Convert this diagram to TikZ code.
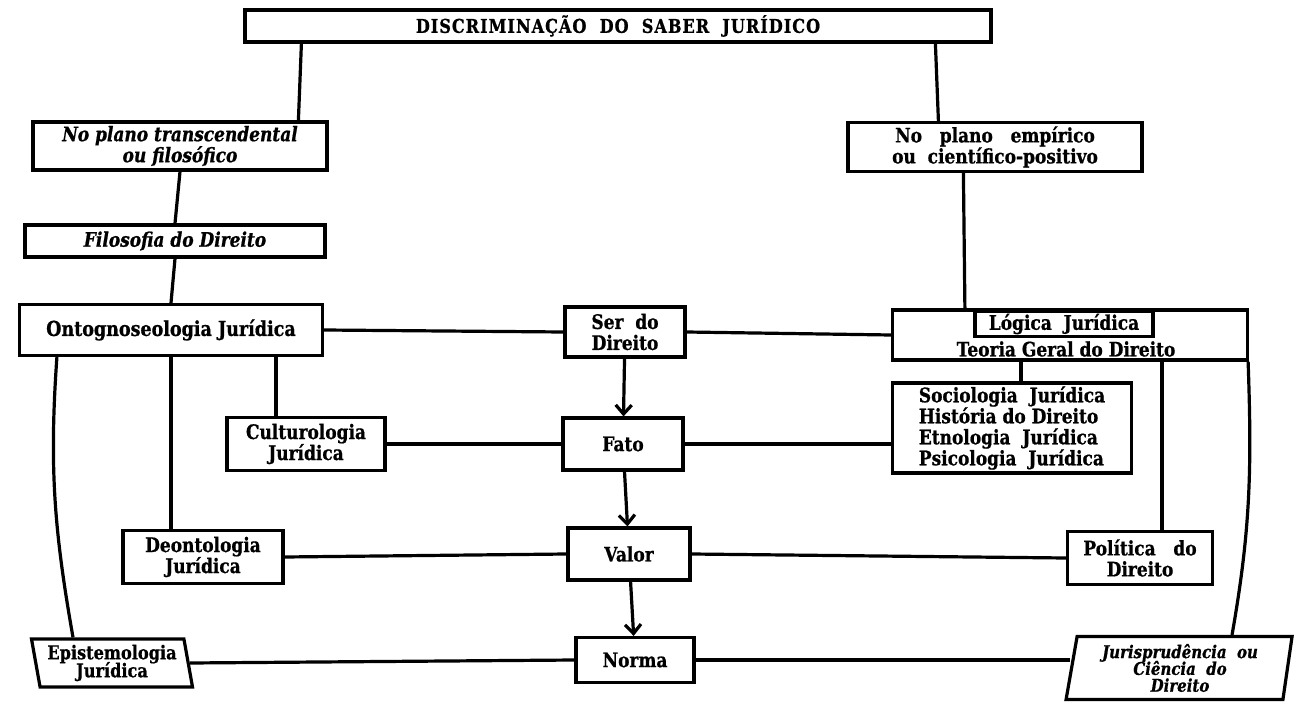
\documentclass[tikz,border=0pt]{standalone}
\usepackage{fontspec}
\setmainfont{DejaVu Serif}[FakeStretch=0.85,
  BoldFeatures={FakeBold=0.8}, BoldItalicFeatures={FakeBold=0.8}]
\usepackage{tikz}
\usetikzlibrary{arrows.meta,positioning,calc,shapes.geometric}
\tikzset{
  box/.style={rectangle, draw=black, line width=1.6pt, inner sep=1pt,
    align=center, font=\bfseries\fontsize{10}{10.5}\selectfont},
  link/.style={line width=1.6pt},
  arr/.style={-{Straight Barb[length=4.5pt,width=8pt]}, line width=1.6pt},
}

\begin{document}
\begin{tikzpicture}[x=0.5pt, y=0.5pt,
    slant/.style={trapezium, trapezium stretches body, draw=black, line width=1.6pt,
      inner sep=1pt, align=center,
      font=\bfseries\fontsize{9.5}{9}\selectfont\setlength{\lineskiplimit}{-6pt}},
  ]
  \useasboundingbox (0,0) rectangle (1304,-716);
  % top
  \node[box, minimum width=373pt, minimum height=16pt,
    font=\bfseries\fontsize{9.5}{10}\selectfont\addfontfeature{LetterSpace=5}] (title) at (618,-26)
    {DISCRIMINAÇÃO\ \ DO\ \ SABER\ \ JURÍDICO};
  % left column
  \node[box, minimum width=147pt, minimum height=24pt] (transc) at (180,-146)
    {\itshape No plano transcendental\\\itshape ou filosófico};
  \node[box, minimum width=150pt, minimum height=16pt] (filos) at (175,-241)
    {\itshape Filosofia\ do\ Direito};
  \node[box, minimum width=151.5pt, minimum height=25.5pt,
    font=\bfseries\fontsize{10.3}{11}\selectfont] (onto) at (171,-330) {Ontognoseologia Jurídica};
  \node[box, minimum width=79pt, minimum height=26.5pt] (cultur) at (306,-444) {Culturologia\\Jurídica};
  \node[box, minimum width=80pt, minimum height=26.5pt] (deont) at (203,-557) {Deontologia\\Jurídica};
  \node[slant, minimum width=80.5pt, minimum height=24pt,
    trapezium left angle=102, trapezium right angle=78] (episte) at (112,-663) {Epistemologia\\Jurídica};
  % center column
  \node[box, minimum width=60pt, minimum height=25pt] (ser) at (625,-332) {Ser\ \ do\\Direito};
  \node[box, minimum width=60pt, minimum height=26pt] (fato) at (623,-444) {Fato};
  \node[box, minimum width=61pt, minimum height=26pt] (valor) at (629,-554) {Valor};
  \node[box, minimum width=59pt, minimum height=22.5pt] (norma) at (635,-660) {Norma};
  % right column
  \node[box, minimum width=147pt, minimum height=24.5pt] (empir) at (995,-147)
    {No\ \ \ plano\ \ \ empírico\\ou\ \ científico-positivo};
  \node[box, minimum width=177.5pt, minimum height=25pt] (teoria) at (1070,-335) {};
  \node[box, minimum width=89pt, minimum height=11pt] (logica) at (1064,-324) {Lógica\ \ Jurídica};
  \node[font=\bfseries\fontsize{10}{10.5}\selectfont, inner sep=0pt] (teorialbl) at (1066,-349)
    {Teoria\ Geral\ do\ Direito};
  \node[box, minimum width=119.5pt, minimum height=45pt, align=left] (soc) at (1012,-428)
    {Sociologia\ \ Jurídica\\História do Direito\\Etnologia\ \ Jurídica\\Psicologia\ \ Jurídica};
  \node[box, minimum width=72.5pt, minimum height=26.5pt] (polit) at (1140,-558) {Política\ \ \ do\\Direito};
  \node[slant, minimum width=113pt, minimum height=31.5pt,
    font=\bfseries\fontsize{8.8}{8.4}\selectfont\setlength{\lineskiplimit}{-6pt},
    trapezium left angle=78, trapezium right angle=100] (juris) at (1180,-668)
    {\itshape Jurisprudência\ \ ou\\\itshape Ciência\ \ do\\\itshape Direito};
  % branches from the top
  \draw[link] ($(title.south west)+(58,0)$) -- ($(transc.north west)+(267,0)$);
  \draw[link] ($(title.south west)+(692,0)$) -- ($(empir.north west)+(92,0)$);
  \draw[link] (transc.south) -- (filos.north);
  \draw[link] (filos.south) -- (onto.north);
  \draw[link] ($(empir.south west)+(117,0)$) -- ($(teoria.north west)+(74,0)$);
  % left side
  \coordinate (oc) at ($(onto.south west)+(258,0)$);
  \draw[link] (oc) -- (oc |- cultur.north);
  \draw[link] (onto.south) -- (onto.south |- deont.north);
  \draw[link] ($(onto.south west)+(39,0)$) to[out=-94, in=100] ($(episte.north)+(-39,0)$);
  % right side
  \coordinate (ts) at ($(teoria.south west)+(130,0)$);
  \draw[link] (ts) -- (ts |- soc.north);
  \coordinate (tp) at ($(teoria.south west)+(271,0)$);
  \draw[link] (tp) -- (tp |- polit.north);
  \draw[link] ($(teoria.south east)+(-1,0)$) to[out=-88, in=80] ($(juris.north)+(52,0)$);
  % rows
  \draw[link] (onto.east) -- (ser.west);
  \draw[link] (ser.east) -- (teoria.west);
  \draw[link] (cultur.east) -- (fato.west);
  \draw[link] (fato.east) -- (fato.east -| soc.west);
  \draw[link] (deont.east) -- (valor.west);
  \draw[link] (valor.east) -- (polit.west);
  \draw[link] (episte.east) -- (norma.west);
  \draw[link] (norma.east) -- (norma.east -| juris.west);
  % arrows
  \draw[arr] (ser) -- (fato);
  \draw[arr] (fato) -- (valor);
  \draw[arr] (valor) -- (norma);
\end{tikzpicture}
\end{document}
